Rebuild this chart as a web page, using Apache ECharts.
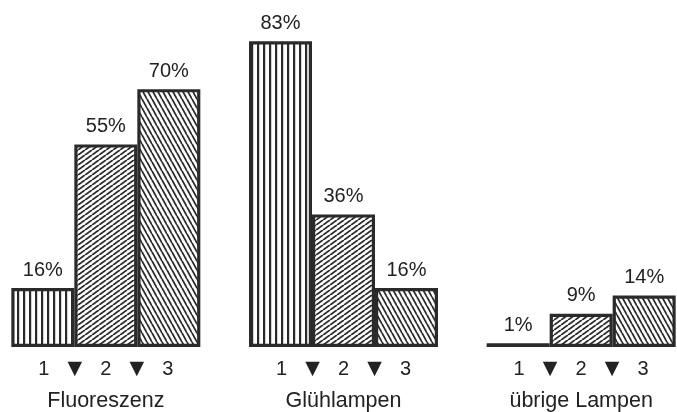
<!DOCTYPE html>
<html>
<head>
<meta charset="utf-8">
<script src="https://cdn.jsdelivr.net/npm/echarts@6/dist/echarts.min.js"></script>
<style>
html,body{margin:0;padding:0;background:#fff;overflow:hidden;width:677px;height:412px;position:relative;}
#chart{position:absolute;left:-13px;top:0;width:713px;height:412px;}
</style>
</head>
<body>
<div id="chart"></div>
<script>
// ---- data ----
var groups = ['Fluoreszenz', 'Glühlampen', 'übrige Lampen'];
var stepLabels = ['1', '2', '3'];
var series1 = [16, 83, 1];
var series2 = [55, 36, 9];
var series3 = [70, 16, 14];

var INK = '#2a2a2a';
var FONT = '"Liberation Sans", Arial, Helvetica, sans-serif';

function verticalPattern() {
  var c = document.createElement('canvas');
  c.width = 6; c.height = 4;
  var g = c.getContext('2d');
  g.fillStyle = '#fff'; g.fillRect(0, 0, 6, 4);
  g.fillStyle = INK; g.fillRect(0, 0, 2.2, 4);
  return c;
}
function hatchPattern(w, h, dir, lw) {
  var c = document.createElement('canvas');
  c.width = w; c.height = h;
  var g = c.getContext('2d');
  g.fillStyle = '#fff'; g.fillRect(0, 0, w, h);
  g.strokeStyle = INK; g.lineWidth = lw;
  for (var k = -1; k <= 1; k++) {
    var dx = k * w;
    g.beginPath();
    if (dir === '/') { g.moveTo(dx, h); g.lineTo(dx + w, 0); }
    else { g.moveTo(dx, 0); g.lineTo(dx + w, h); }
    g.stroke();
  }
  return c;
}

var patterns = [
  { image: verticalPattern(), repeat: 'repeat' },
  { image: hatchPattern(7, 5, '/', 1.8), repeat: 'repeat' },
  { image: hatchPattern(5, 9, '\\', 1.8), repeat: 'repeat' }
];

function makeSeries(data, idx) {
  return {
    type: 'bar',
    data: data,
    barWidth: 63,
    barGap: '0%',
    itemStyle: { color: patterns[idx], borderColor: INK, borderWidth: 3.2 },
    label: {
      show: true, position: 'top', distance: 8,
      formatter: '{c}%',
      fontFamily: FONT, fontSize: 20, color: '#222'
    },
    emphasis: { disabled: true },
    silent: true,
    animation: false
  };
}

var chart = echarts.init(document.getElementById('chart'), null, { renderer: 'canvas' });
chart.setOption({
  backgroundColor: '#fff',
  animation: false,
  grid: { left: 0, right: 0, top: 15.5, bottom: 63.5 },
  xAxis: {
    type: 'category',
    data: groups,
    axisLine: { show: false },
    axisTick: { show: false },
    axisLabel: {
      interval: 0,
      margin: 11,
      formatter: function (v) {
        return '{n|' + stepLabels[0] + '}{t|▼}{n|' + stepLabels[1] + '}{t|▼}{n|' + stepLabels[2] + '}\n{g|' + v + '}';
      },
      rich: {
        n: { width: 31, align: 'center', fontFamily: FONT, fontSize: 20, lineHeight: 22, color: '#222' },
        t: { width: 31, align: 'center', fontFamily: '"DejaVu Sans", sans-serif', fontSize: 19, lineHeight: 22, color: '#222' },
        g: { fontFamily: FONT, fontSize: 21.5, lineHeight: 42, color: '#222' }
      }
    }
  },
  yAxis: { type: 'value', min: 0, max: 90, show: false, splitLine: { show: false } },
  series: [makeSeries(series1, 0), makeSeries(series2, 1), makeSeries(series3, 2)]
});
</script>
</body>
</html>
